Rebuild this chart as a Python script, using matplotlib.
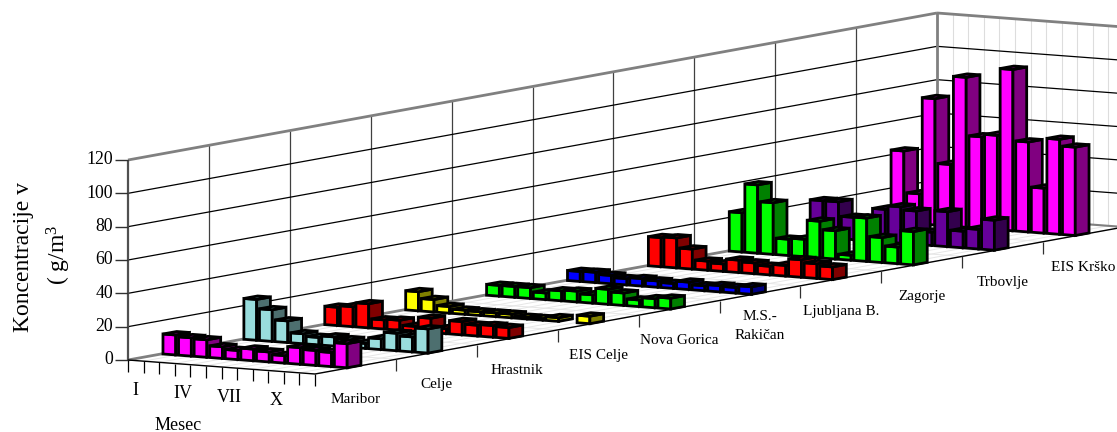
import matplotlib
matplotlib.use("Agg")
import matplotlib.pyplot as plt
from matplotlib.patches import Polygon

plt.rcParams['font.family'] = ['Liberation Serif', 'DejaVu Serif']
plt.rcParams['mathtext.fontset'] = 'custom'
plt.rcParams['mathtext.rm'] = 'Liberation Serif'
plt.rcParams['mathtext.default'] = 'regular'

# ---------- data ----------
months = list(range(12))
month_labels = {0: 'I', 3: 'IV', 6: 'VII', 9: 'X'}
sites = ['Maribor', 'Celje', 'Hrastnik', 'EIS Celje', 'Nova Gorica',
         'M.S.-\nRakičan', 'Ljubljana B.', 'Zagorje', 'Trbovlje', 'EIS Krško']
y_ticks = [0, 20, 40, 60, 80, 100, 120]

maribor = [12, 11, 10.5, 7, 5.5, 7, 6, 4.5, 10, 9, 8.5, 14.5]
celje = [24.5, 19, 13, 6, 4.5, 5.5, 4.5, 3, 6.5, 10.5, 9, 14.5]
hrastnik = [11, 12, 14.5, 5.5, 6, 3, 8.6, 3, 8, 6.5, 7, 6.5]
eis_celje = [11.5, 7.5, 4, 2.5, 2.2, 2.2, 2.2, 1, 1, 2.2, 0, 4.5]
nova_gorica = [6.5, 6.5, 6.5, 4, 6, 6.5, 5, 9, 7.5, 4, 5.5, 6.5]
ms_rakican = [6, 6.2, 5, 3.8, 4.5, 3.8, 3, 4.5, 3, 3.8, 3.4, 4.5]
ljubljana = [17.5, 18, 12, 5.5, 4.5, 7.5, 6.5, 5.2, 6.4, 10.5, 8.8, 7.6]
zagorje = [23.6, 41, 31, 9.8, 10.5, 22, 17, 3, 26, 15, 10, 20]
trbovlje = [22, 22, 13.4, 12, 19.6, 21.8, 20, 8, 21, 10, 11.8, 18]
eis_krsko = [43, 18, 75.8, 37, 90, 55, 56.6, 96.8, 54, 27, 57, 53]

series = [maribor, celje, hrastnik, eis_celje, nova_gorica,
          ms_rakican, ljubljana, zagorje, trbovlje, eis_krsko]
front_colors = ['#FF00FF', '#99DDDD', '#FF0000', '#FFFF00', '#00FF00',
                '#0000FF', '#FF0000', '#00FF00', '#660099', '#FF00FF']
side_colors = ['#800080', '#4D6F6F', '#800000', '#808000', '#008000',
               '#000080', '#800000', '#008000', '#33004D', '#800080']

# ---------- parallel projection (month, site, value) -> picture ----------
O = (128.0, 360.0)
EX = (187.0 / 12, 14.0 / 12)
EY = (80.9, -14.7)
EZ = 200.0 / 120
N_M, N_S, Z_MAX = 12, 10, 120


def P(m, s, z=0.0):
    return (O[0] + m * EX[0] + s * EY[0], O[1] + m * EX[1] + s * EY[1] - z * EZ)


fig = plt.figure(figsize=(11.17, 4.32), dpi=100)
ax = fig.add_axes([0, 0, 1, 1])
ax.set_xlim(0, 1117)
ax.set_ylim(432, 0)
ax.axis('off')


def line(a, b, color, lw, z=1):
    ax.plot([a[0], b[0]], [a[1], b[1]], color=color, lw=lw, zorder=z,
            solid_capstyle='butt')


GREY = '#808080'
# floor
for m in range(N_M + 1):
    line(P(m, 0), P(m, N_S), '#E6E6E6', 0.7)
for s in range(N_S + 1):
    line(P(0, s), P(N_M, s), '#E6E6E6', 0.7)
# back wall verticals
for m in range(1, N_M + 1):
    line(P(m, N_S), P(m, N_S, Z_MAX), '#DDDDDD', 0.8)
# left wall verticals
for s in range(1, N_S):
    line(P(0, s), P(0, s, Z_MAX), '#404040', 0.9)
# horizontal grid lines on both walls
for v in y_ticks[1:-1]:
    line(P(0, 0, v), P(0, N_S, v), 'black', 0.9, 2)
    line(P(0, N_S, v), P(N_M, N_S, v), 'black', 0.9, 2)
# wall frame
line(P(0, 0, Z_MAX), P(0, N_S, Z_MAX), GREY, 2.0, 3)
line(P(0, N_S, Z_MAX), P(N_M, N_S, Z_MAX), GREY, 2.0, 3)
line(P(0, N_S), P(0, N_S, Z_MAX), GREY, 2.0, 3)
line(P(0, 0), P(0, N_S), GREY, 2.0, 3)
line(P(0, N_S), P(N_M, N_S), GREY, 1.5, 3)
line(P(0, 0), P(0, 0, Z_MAX), '#505050', 1.6, 3)
# front floor edges
line(P(0, 0), P(N_M, 0), 'black', 1.0, 4)
line(P(N_M, 0), P(N_M, N_S), 'black', 1.0, 4)

# y axis ticks and labels
for v in y_ticks:
    x, y = P(0, 0, v)
    line((x - 13, y), (x, y), '#303030', 1.0, 4)
    ax.text(x - 15, y, str(v), ha='right', va='center', fontsize=12.8)

# month ticks and labels
for m in range(N_M + 1):
    x, y = P(m, 0)
    line((x, y), (x, y + 12), 'black', 0.9, 4)
for m, lab in month_labels.items():
    x, y = P(m + 0.5, 0)
    ax.text(x, y + 29.5, lab, ha='center', va='center', fontsize=13)

# site ticks and labels
for s, name in enumerate(sites):
    x, y = P(N_M, s)
    if s > 0:
        line((x, y), (x, y + 12), '#303030', 0.9, 4)
    lx, ly = P(N_M, s + 0.5)
    ax.text(lx, ly + 33, name, ha='center', va='center',
            fontsize=11, linespacing=1.6)

# bars, back to front
BW, BD = 0.82, 0.17
zo = 10
for s in range(N_S - 1, -1, -1):
    for m in months:
        h = series[s][m]
        if h <= 0:
            continue
        m0, m1 = m + 0.5 - BW / 2, m + 0.5 + BW / 2
        s0, s1 = s + 0.5 - BD / 2, s + 0.5 + BD / 2
        faces = [
            ([P(m0, s0, 0), P(m1, s0, 0), P(m1, s0, h), P(m0, s0, h)], front_colors[s]),
            ([P(m1, s0, 0), P(m1, s1, 0), P(m1, s1, h), P(m1, s0, h)], side_colors[s]),
            ([P(m0, s0, h), P(m1, s0, h), P(m1, s1, h), P(m0, s1, h)], side_colors[s]),
        ]
        for pts, col in faces:
            ax.add_patch(Polygon(pts, closed=True, facecolor=col, edgecolor='black',
                                 lw=2.0, joinstyle='miter', zorder=zo))
        zo += 1

# titles
ax.text(178, 425, 'Mesec', ha='center', va='center', fontsize=13)
ax.text(24, 257, 'Koncentracije v', rotation=90, ha='center', va='center', fontsize=17)
ax.text(59, 255, '( g/m$^{3}$', rotation=90, ha='center', va='center', fontsize=17)

fig.savefig('out.png', dpi=100)
